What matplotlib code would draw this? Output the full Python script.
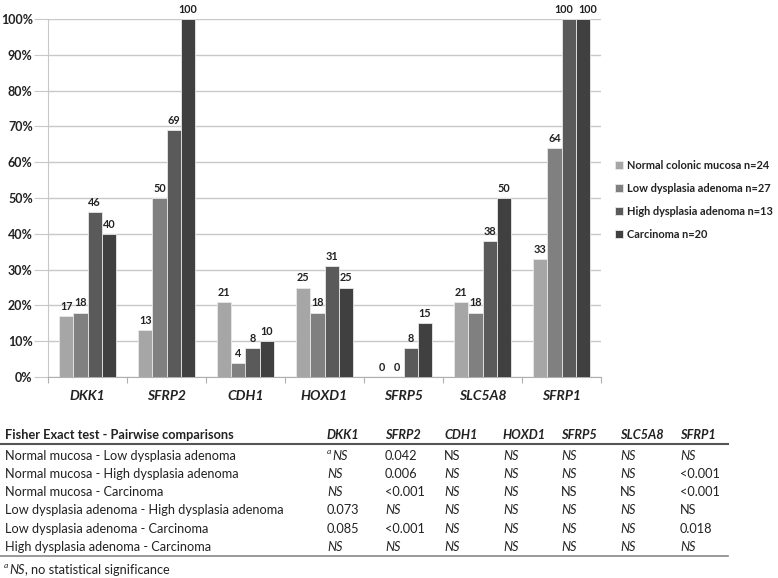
import matplotlib
matplotlib.use("Agg")
import matplotlib.pyplot as plt
import numpy as np

genes = ["DKK1", "SFRP2", "CDH1", "HOXD1", "SFRP5", "SLC5A8", "SFRP1"]
series_names = ["Normal colonic mucosa n=24", "Low dysplasia adenoma n=27",
                "High dysplasia adenoma n=13", "Carcinoma n=20"]
normal = [17, 13, 21, 25, 0, 21, 33]
low = [18, 50, 4, 18, 0, 18, 64]
high = [46, 69, 8, 31, 8, 38, 100]
carcinoma = [40, 100, 10, 25, 15, 50, 100]
colors = ["#a6a6a6", "#808080", "#5a5a5a", "#404040"]

table_header = "Fisher Exact test - Pairwise comparisons"
comparisons = ["Normal mucosa - Low dysplasia adenoma",
               "Normal mucosa - High dysplasia adenoma",
               "Normal mucosa - Carcinoma",
               "Low dysplasia adenoma - High dysplasia adenoma",
               "Low dysplasia adenoma - Carcinoma",
               "High dysplasia adenoma - Carcinoma"]
pvalues = [
    ["NS", "0.042", "NS", "NS", "NS", "NS", "NS"],
    ["NS", "0.006", "NS", "NS", "NS", "NS", "<0.001"],
    ["NS", "<0.001", "NS", "NS", "NS", "NS", "<0.001"],
    ["0.073", "NS", "NS", "NS", "NS", "NS", "NS"],
    ["0.085", "<0.001", "NS", "NS", "NS", "NS", "0.018"],
    ["NS", "NS", "NS", "NS", "NS", "NS", "NS"],
]
# cells where NS is upright rather than italic
upright_ns = {(0, 2), (2, 4), (2, 5), (3, 6)}
footnote_rest = ", no statistical significance"

plt.rcParams['font.family'] = ['Lato', 'DejaVu Sans']
W, H = 778, 578
fig = plt.figure(figsize=(W / 100, H / 100), dpi=100)

ax = fig.add_axes([48 / W, 1 - 377 / H, (601 - 48) / W, (377 - 19) / H])
series = [normal, low, high, carcinoma]
x = np.arange(len(genes))
bw = 0.18
for i, (vals, c, name) in enumerate(zip(series, colors, series_names)):
    pos = x + (i - 1.5) * bw
    ax.bar(pos, vals, width=bw, color=c, edgecolor="#e8e8e8",
           linewidth=0.6, label=name, zorder=3)
    for j, (p, v) in enumerate(zip(pos, vals)):
        dx = 0
        if v >= 100:
            if i + 1 < len(series) and series[i + 1][j] >= 100:
                dx = -3.5
            if i > 0 and series[i - 1][j] >= 100:
                dx = 3.5
        ax.annotate(f"{v}", (p, v), xytext=(dx, 3), textcoords="offset points",
                    ha="center", va="bottom", fontsize=7.8, fontweight="bold",
                    color="#222222", zorder=4)

ax.set_xlim(-0.5, len(genes) - 0.5)
ax.set_ylim(0, 100)
ax.set_yticks(np.arange(0, 101, 10))
ax.set_yticklabels([f"{v}%" for v in range(0, 101, 10)], fontsize=9,
                   fontweight="bold", color="#222222")
ax.yaxis.grid(True, color="#c8c8c8", linewidth=1, zorder=0)
ax.tick_params(axis="y", length=10, color="#c8c8c8", pad=1)
ax.set_xticks(np.arange(-0.5, len(genes), 1))
ax.set_xticklabels([])
ax.tick_params(axis="x", length=4, color="#b0b0b0", direction="out")
ax.set_xticks(x, minor=True)
ax.set_xticklabels(genes, minor=True, fontsize=10, fontweight="bold",
                   fontstyle="italic", color="#222222")
ax.tick_params(axis="x", which="minor", length=0, pad=9)
for s in ["top", "right"]:
    ax.spines[s].set_visible(False)
ax.spines["left"].set_color("#c8c8c8")
ax.spines["bottom"].set_color("#b0b0b0")

leg = ax.legend(loc="center left", bbox_to_anchor=(615 / W, 1 - 200 / H),
                bbox_transform=fig.transFigure, frameon=False,
                borderpad=0, borderaxespad=0,
                handlelength=0.75, handleheight=0.75, handletextpad=0.3,
                labelspacing=1.1, prop={"weight": "bold", "size": 7.9})
for t in leg.get_texts():
    t.set_color("#222222")

# Table
def fy(py):
    return 1 - py / H

col_x = [327, 385, 444, 503, 561, 620, 680]
tc = "#222222"
fs = 9.2
fig.text(5 / W, fy(435), table_header, fontsize=fs, fontweight="bold",
         color=tc, va="center", ha="left")
for g, cx in zip(genes, col_x):
    fig.text(cx / W, fy(435), g, fontsize=fs, fontweight="bold",
             fontstyle="italic", color=tc, va="center", ha="left")
fig.add_artist(plt.Line2D([0, 728 / W], [fy(444), fy(444)], color="#555555",
                          linewidth=1.5))
row_y = [456, 474, 492, 510, 529, 547]
for r, (comp, vals) in enumerate(zip(comparisons, pvalues)):
    fig.text(5 / W, fy(row_y[r]), comp, fontsize=fs, color=tc,
             va="center", ha="left")
    for c, (v, cx) in enumerate(zip(vals, col_x)):
        style = "italic" if (v == "NS" and (r, c) not in upright_ns) else "normal"
        xx = cx
        if r == 0 and c == 0:
            fig.text(cx / W, fy(row_y[r] - 4), "a", fontsize=6,
                     fontstyle="italic", color=tc, va="center", ha="left")
            xx = cx + 5
        fig.text(xx / W, fy(row_y[r]), v, fontsize=fs, fontstyle=style,
                 color=tc, va="center", ha="left")
fig.add_artist(plt.Line2D([0, 728 / W], [fy(556), fy(556)], color="#888888",
                          linewidth=1.2))
fig.text(4 / W, fy(566), "a", fontsize=6, fontstyle="italic", color=tc,
         va="center", ha="left")
t_ns = fig.text(9 / W, fy(570), "NS", fontsize=fs, fontstyle="italic",
                color=tc, va="center", ha="left")
fig.canvas.draw()
bb = t_ns.get_window_extent(fig.canvas.get_renderer())
fig.text(bb.x1 / (W) + 0.5 / W, fy(570), footnote_rest, fontsize=fs, color=tc,
         va="center", ha="left")

fig.savefig("out.png", dpi=100)
